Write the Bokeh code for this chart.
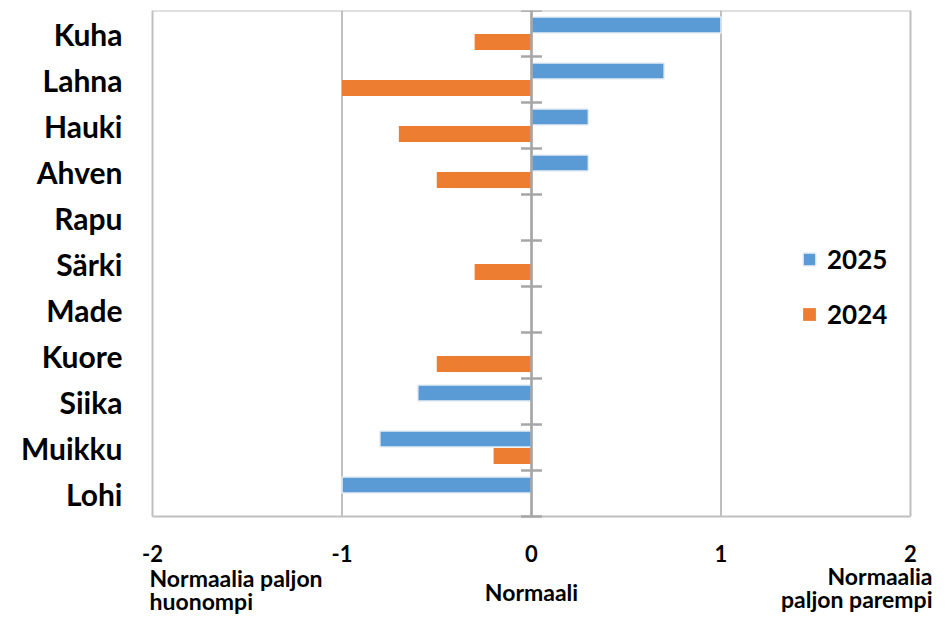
from bokeh.plotting import figure
from bokeh.models import Range1d, FixedTicker, Legend, LegendItem, ColumnDataSource
from bokeh.core.properties import value
from bokeh.embed import file_html
from bokeh.resources import INLINE

# ---- data ----
categories = ["Kuha", "Lahna", "Hauki", "Ahven", "Rapu", "Särki",
              "Made", "Kuore", "Siika", "Muikku", "Lohi"]
values_2025 = [1.0, 0.7, 0.3, 0.3, 0.0, 0.0, 0.0, 0.0, -0.6, -0.8, -1.0]
values_2024 = [-0.3, -1.0, -0.7, -0.5, 0.0, -0.3, 0.0, -0.5, 0.0, -0.2, 0.0]
series_names = ["2025", "2024"]
x_ticks = [-2, -1, 0, 1, 2]
x_tick_labels = ["-2", "-1", "0", "1", "2"]
scale_labels = ["Normaalia paljon\nhuonompi", "Normaali", "Normaalia\npaljon parempi"]
scale_positions = [-2, 0, 2]

# ---- style / layout ----
BLUE = "#5B9BD5"
ORANGE = "#ED7D31"
GRID = "#BFBFBF"
AXIS = "#A6A6A6"
FONT = "Lato"

W, H = 934, 614
PLOT_L, PLOT_R, PLOT_T, PLOT_B = 152, 910, 10, 516   # plot-area box in px
FRAME_L = 140

n = len(categories)
ux = (PLOT_R - PLOT_L) / (x_ticks[-1] - x_ticks[0])   # px per x unit
uy = (PLOT_B - PLOT_T) / n                              # px per category
x_lo = x_ticks[0] - (PLOT_L - FRAME_L) / ux
x_hi = x_ticks[-1] + (W - PLOT_R) / ux
y_lo = -(H - PLOT_B) / uy
y_hi = n


def below(px):
    return -px / uy


centers = [n - 1 - i + 0.5 for i in range(n)]
bar_h = 0.35
off = 0.185

src = ColumnDataSource(dict(
    y25=[c + off for c in centers],
    y24=[c - off for c in centers],
    v25=values_2025,
    v24=values_2024,
))

p = figure(width=W, height=H, output_backend="svg", toolbar_location=None,
           x_range=Range1d(x_lo, x_hi), y_range=Range1d(y_lo, y_hi),
           x_axis_location=None,
           min_border_left=FRAME_L, min_border_right=0, min_border_top=PLOT_T,
           min_border_bottom=0)

p.outline_line_color = None
p.grid.grid_line_color = None
p.background_fill_color = "white"
p.border_fill_color = "white"

# plot-area box and vertical gridlines
p.segment(x0=x_ticks, y0=[0] * len(x_ticks), x1=x_ticks, y1=[n] * len(x_ticks),
          line_color=GRID, line_width=2)
p.segment(x0=[x_ticks[0], x_ticks[0]], y0=[0, n], x1=[x_ticks[-1], x_ticks[-1]], y1=[0, n],
          line_color=GRID, line_width=2)

r25 = p.hbar(y="y25", left=0, right="v25", height=bar_h, source=src,
             fill_color=BLUE, line_color="#E6EEF6", line_width=1.5)
r24 = p.hbar(y="y24", left=0, right="v24", height=bar_h, source=src,
             fill_color=ORANGE, line_color=None)

# center vertical axis with cross ticks at category boundaries
p.segment(x0=[0], y0=[0], x1=[0], y1=[n], line_color=AXIS, line_width=2.5)
p.scatter(x=[0] * (n + 1), y=list(range(n + 1)), marker="dash", size=21,
          line_color=AXIS, line_width=2.5)

# x tick labels
p.text(x=x_ticks, y=[below(37)] * len(x_ticks), text=x_tick_labels,
       text_align="center", text_baseline="middle",
       text_font=value(FONT), text_font_style="bold", text_font_size="22px",
       text_color="black")

# scale description labels
first_line_px = [61, 75, 59]
aligns = ["left", "center", "right"]
x_offsets = [-3, 0, W - PLOT_R - 2]
for txt, xp, y0, al, xo in zip(scale_labels, scale_positions, first_line_px, aligns, x_offsets):
    lines = txt.split("\n")
    p.text(x=[xp] * len(lines), y=[below(y0 + k * 23) for k in range(len(lines))],
           text=lines, text_align=al, text_baseline="middle", x_offset=xo,
           text_font=value(FONT), text_font_style="bold", text_font_size="23px",
           text_color="black")

# y axis (category names)
ya = p.yaxis[0]
ya.ticker = FixedTicker(ticks=centers)
ya.major_label_overrides = {c: name for c, name in zip(centers, categories)}
ya.axis_line_color = None
ya.major_tick_line_color = None
ya.minor_tick_line_color = None
ya.major_label_text_font = FONT
ya.major_label_text_font_style = "bold"
ya.major_label_text_font_size = "30px"
ya.major_label_text_color = "black"
ya.major_label_standoff = 12

legend = Legend(items=[LegendItem(label=series_names[0], renderers=[r25]),
                       LegendItem(label=series_names[1], renderers=[r24])],
                location=(661, H - 330), orientation="vertical")
legend.border_line_color = None
legend.background_fill_alpha = 0
legend.padding = 0
legend.margin = 0
legend.spacing = 23
legend.glyph_width = 16
legend.glyph_height = 16
legend.label_height = 30
legend.label_standoff = 10
legend.label_text_font = FONT
legend.label_text_font_style = "bold"
legend.label_text_font_size = "26px"
legend.label_text_color = "black"
p.add_layout(legend)

open("out.html", "w").write(file_html(p, INLINE))
